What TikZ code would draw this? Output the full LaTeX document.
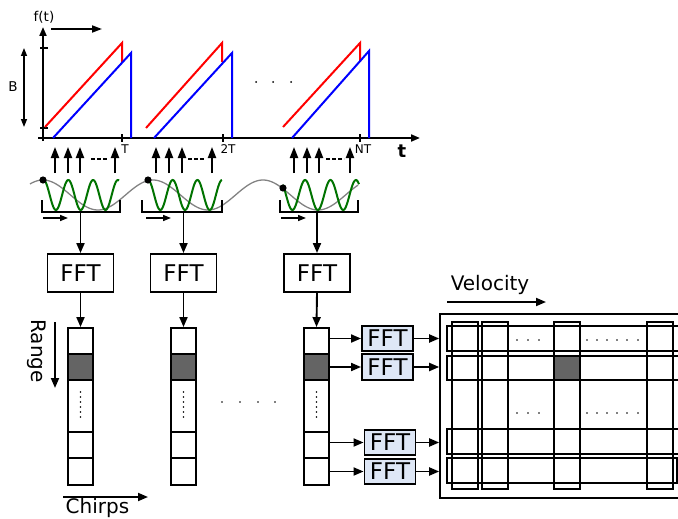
\documentclass[tikz,border=0pt]{standalone}
\usepackage{fontspec}
\setmainfont{DejaVu Sans}
\usetikzlibrary{arrows.meta}
\definecolor{fftblue}{RGB}{222,231,246}
\definecolor{darkcell}{RGB}{100,100,100}
\definecolor{chirpred}{RGB}{255,0,0}
\definecolor{chirpblue}{RGB}{0,0,255}
\definecolor{wavegreen}{RGB}{0,115,0}
\definecolor{wavegray}{RGB}{130,130,130}
\begin{document}
\begin{tikzpicture}[x=1pt,y=-1pt,
  fftbox/.style={draw, line width=1.9pt, minimum width=66pt, minimum height=38pt, inner sep=0pt, font=\fontsize{23}{23}\selectfont},
  smallfft/.style={draw, line width=1.9pt, fill=fftblue, minimum width=51pt, minimum height=25pt, inner sep=0pt, font=\fontsize{23}{23}\selectfont},
  cell/.style={draw, line width=1.9pt, minimum width=25pt, inner sep=0pt},
  arr/.style={-{Triangle[length=10pt,width=8pt]}, line width=1.9pt},
  uparr/.style={-{Triangle[length=11pt,width=8pt]}, line width=2pt},
  smallarr/.style={-{Triangle[length=8pt,width=6pt]}, line width=1.5pt},
  ramp/.style={line width=2pt},
  lbl/.style={inner sep=0pt, font=\fontsize{20}{20}\selectfont},
  tiny/.style={inner sep=0pt, font=\fontsize{13.5}{13.5}\selectfont},
  ticklbl/.style={inner sep=0pt, font=\fontsize{12}{12}\selectfont},
  bracket/.style={line width=2pt},
  mline/.style={line width=1.9pt}
]
\useasboundingbox (0,0) rectangle (678,519);
\clip (0,0) rectangle (678,519);

% ---------- frequency plot ----------
\coordinate (O) at (43,138);
\coordinate (Ytop) at (43,27);
\coordinate (Xend) at (420,138);
\draw[-{Triangle[length=9pt,width=7pt]}, line width=2pt] (43,141) -- (Ytop);
\draw[-{Triangle[length=9pt,width=7pt]}, line width=2pt] (38,138) -- (Xend);
\draw[line width=1.6pt] (40,48) -- (48,48);
\draw[line width=1.6pt] (40,128) -- (48,128);
\draw[{Triangle[length=8pt,width=6pt]}-{Triangle[length=8pt,width=6pt]}, line width=1.4pt] (24,48) -- (24,127);
\coordinate (ta) at (51,29);
\coordinate (tb) at (102,29);
\draw[-{Triangle[length=10pt,width=7pt]}, line width=1.8pt] (ta) -- (tb);
\node[tiny] (ft) at (44,17) {f(t)};
\node[tiny] (B) at (13,87) {B};
\foreach \xx in {122,223,360} \draw[line width=1.6pt] (\xx,134) -- (\xx,142);
\node[ticklbl] (lT) at (125,149) {T};
\node[ticklbl] (l2T) at (228,149) {2T};
\node[ticklbl] (lNT) at (363,149) {NT};
\node[inner sep=0pt, font=\fontsize{18}{18}\selectfont\bfseries] (lt) at (402,151) {t};
\foreach \xx in {256,273,291} \fill (\xx,82) circle (1pt);

% ramps
\draw[ramp, chirpred] (45,127) -- (122,43) -- (122,62);
\draw[ramp, chirpblue] (53,138) -- (131,53) -- (131,138);
\draw[ramp, chirpred] (146,128) -- (222,43) -- (222,62);
\draw[ramp, chirpblue] (154,138) -- (232,53) -- (232,138);
\draw[ramp, chirpred] (283,127) -- (360,43) -- (360,62);
\draw[ramp, chirpblue] (292,138) -- (369,51) -- (369,138);

% sampling arrows
\foreach \xx in {55,68,80,115, 156,169,182,212, 294,307,319,350}
  \draw[uparr] (\xx,173) -- (\xx,147);
\foreach \a/\b in {91/107,188/205,326/344}
  \draw[line width=2pt, dash pattern=on 3.5pt off 2.5pt] (\a,159) -- (\b,159);

% waves
\draw[wavegray, line width=1.3pt] plot[domain=30:358, samples=200, smooth] (\x,{195-15*cos(3.2727*(\x-43))});
\draw[wavegreen, line width=2pt] plot[domain=45:119, samples=100, smooth] (\x,{195-15*cos(14.516*(\x-43.5))});
\draw[wavegreen, line width=2pt] plot[domain=148:222, samples=100, smooth] (\x,{195-15*cos(14.575*(\x-148))});
\draw[wavegreen, line width=2pt] plot[domain=283:359, samples=100, smooth] (\x,{195-15*cos(14.173*(\x-279.7))});
\fill (43,180) circle (3.6pt);
\fill (148,180) circle (3.6pt);
\fill (283,188) circle (3.6pt);

% brackets
\draw[bracket] (42,200) -- (42,212) -- (120,212) -- (120,200);
\draw[bracket] (142,200) -- (142,212) -- (222,212) -- (222,200);
\draw[bracket] (280,200) -- (280,212) -- (358,212) -- (358,200);
\coordinate (br1) at (80.5,212);
\coordinate (br2) at (183.5,212);
\coordinate (br3) at (317,212);
\draw[smallarr] (43,218) -- (68,218);
\draw[smallarr] (146,218) -- (171,218);
\draw[smallarr] (281,218) -- (306,218);

% ---------- FFT boxes and range columns ----------
\node[fftbox] (F1) at (80.5,273) {FFT};
\node[fftbox] (F2) at (183.5,273) {FFT};
\node[fftbox] (F3) at (317,273) {FFT};
\draw[arr] (br1) -- (F1.north);
\draw[arr] (br2) -- (F2.north);
\draw[arr] (br3) -- (F3.north);

\foreach \i/\cx in {1/80.5,2/183.5,3/316.5}{
  \node[cell, minimum height=26pt] (c\i r1) at (\cx,341) {};
  \node[cell, minimum height=26pt, fill=darkcell] (c\i r2) at (\cx,367) {};
  \node[cell, minimum height=52pt] (c\i r3) at (\cx,406) {};
  \node[cell, minimum height=26pt] (c\i r4) at (\cx,445) {};
  \node[cell, minimum height=27pt] (c\i r5) at (\cx,471.5) {};
  \foreach \yy in {392,397,402,407,412,417} \fill (\cx,\yy) circle (0.8pt);
}
\draw[arr] (F1.south) -- (c1r1.north);
\draw[arr] (F2.south) -- (c2r1.north);
\draw[arr] (F3.south) -- (c3r1.north);
\foreach \xx in {222,240,258,275} \fill (\xx,402) circle (0.9pt);

\node[lbl, rotate=-90] (range) at (37,351) {Range};
\coordinate (ra) at (55,322);
\coordinate (rb) at (55,388);
\draw[arr] (ra) -- (rb);
\node[lbl] (chirps) at (97.5,508) {Chirps};
\coordinate (cha) at (63,497);
\coordinate (chb) at (148,497);
\draw[arr] (cha) -- (chb);

% ---------- Doppler FFTs ----------
\node[smallfft] (Fa) at (387.5,338.5) {FFT};
\node[smallfft, minimum height=26pt] (Fb) at (387.5,367) {FFT};
\node[smallfft] (Fc) at (390,442.5) {FFT};
\node[smallfft] (Fd) at (390,471.5) {FFT};
\draw[arr] (c3r1.east |- Fa) -- (Fa.west);
\draw[arr] (c3r2.east |- Fb) -- (Fb.west);
\draw[arr] (c3r4.east |- Fc) -- (Fc.west);
\draw[arr] (c3r5.east |- Fd) -- (Fd.west);

% matrix
\node[draw, line width=1.6pt, minimum width=262pt, minimum height=184pt, inner sep=0pt] (M) at (571,406) {};
\draw[arr] (Fa.east) -- (Fa.east -| M.west);
\draw[arr] (Fb.east) -- (Fb.east -| M.west);
\draw[arr] (Fc.east) -- (Fc.east -| M.west);
\draw[arr] (Fd.east) -- (Fd.east -| M.west);

\fill[darkcell] (554,356) rectangle (580,380);
\draw[mline] (447,326) rectangle (690,351);
\draw[mline] (447,356) rectangle (690,380);
\draw[mline] (447,429) rectangle (690,454);
\draw[mline] (447,458) rectangle (677,483);
\foreach \a in {452,482,554,647}
  \draw[mline] (\a,322) rectangle (\a+26,489);
\foreach \yy in {340,413}{
  \foreach \xx in {517,528,539} \fill (\xx,\yy) circle (0.8pt);
  \foreach \xx in {587,597,607,617,627,638} \fill (\xx,\yy) circle (0.8pt);
}
\node[lbl] (vel) at (490,285) {Velocity};
\coordinate (va) at (447,302);
\coordinate (vb) at (546,302);
\draw[arr] (va) -- (vb);
\end{tikzpicture}
\end{document}
